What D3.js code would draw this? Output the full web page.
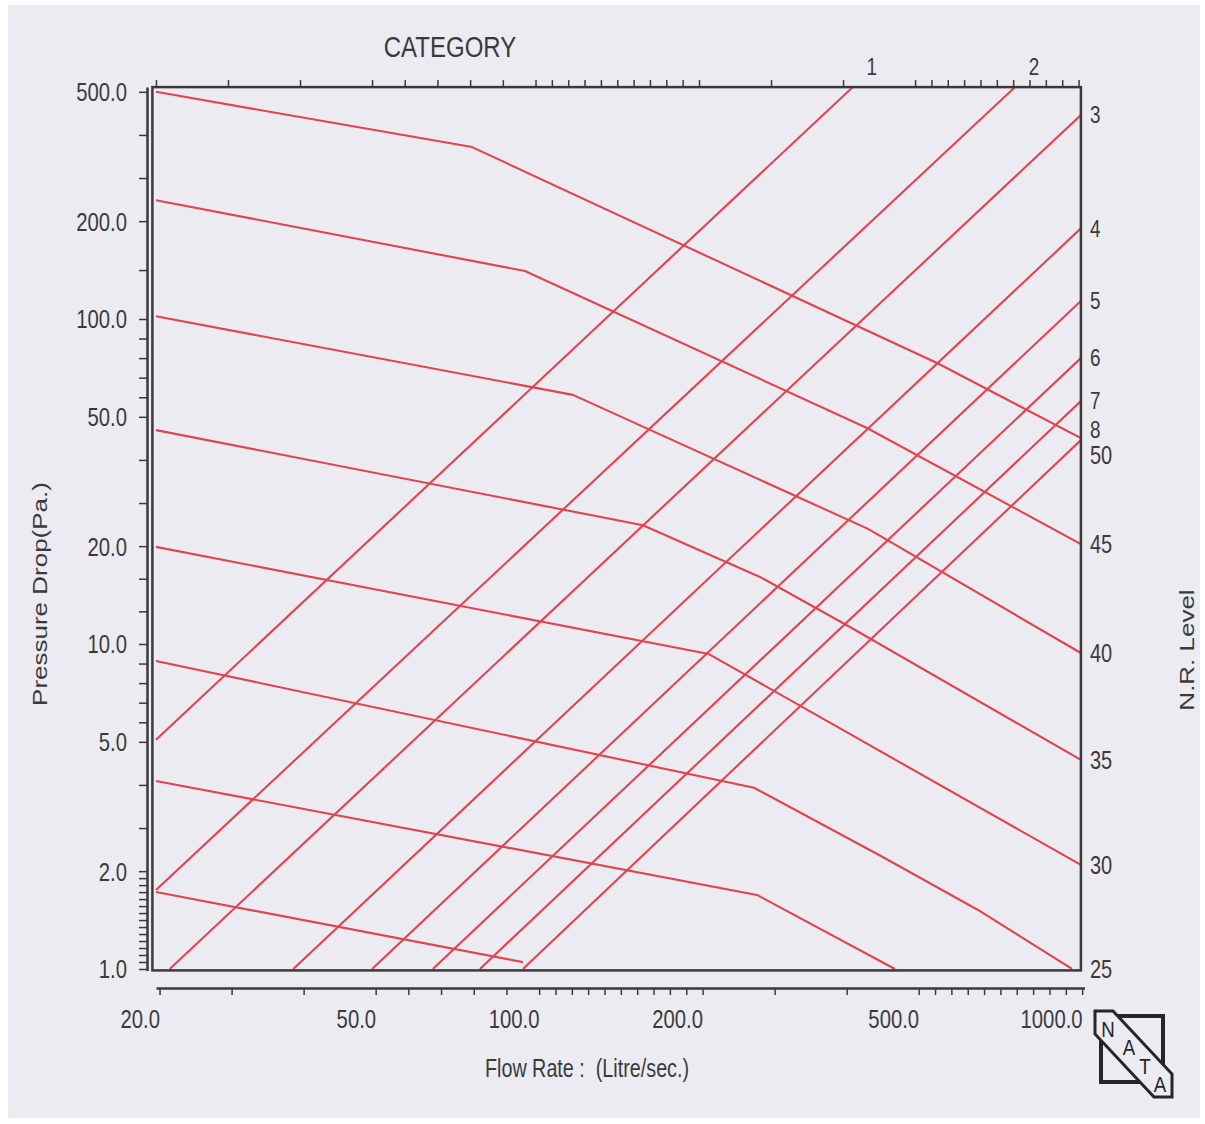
<!DOCTYPE html>
<html><head><meta charset="utf-8">
<script src="https://cdn.jsdelivr.net/npm/d3@7"></script>
<style>
html,body{margin:0;padding:0;background:#fff;}
svg{display:block;}
text{font-family:"Liberation Sans",Arial,Helvetica,sans-serif;fill:#3a3a3a;}
</style>
</head><body>
<svg id="c" width="1205" height="1124"></svg>
<script>
// ---------------- data ----------------
const xTickLabels = [20, 50, 100, 200, 500, 1000];
const yTickLabels = [1, 2, 5, 10, 20, 50, 100, 200, 500];
const xMinorSteps = [3, 5, 10, 3, 10];          // tick subdivisions between labelled x ticks
const yMinorSteps = [14, 3, 5, 3, 3, 5, 2, 3];  // tick subdivisions between labelled y ticks

const categoryNames = ["1", "2", "3", "4", "5", "6", "7", "8"];
const categoryStart = [[20, 5.07], [20, 1.75], [21.2, 1.0], [35.8, 1.0], [50.0, 1.0], [64.7, 1.0], [79.0, 1.0], [94.8, 1.0]];
const categoryEnd   = [[384, 517], [764, 517], [1010, 424], [1010, 190], [1010, 113.6], [1010, 75.8], [1010, 55.9], [1010, 42.4]];

const nrLevels = ["50", "45", "40", "35", "30", "25", "20", "15"];
const nr50 = [[20, 500], [76.4, 338], [548.8, 73.2], [1010, 43.0]];
const nr45 = [[20, 232], [95.6, 140.5], [407.8, 46.2], [1010, 20.3]];
const nr40 = [[20, 102], [117.2, 58.4], [409.6, 22.6], [1010, 9.38]];
const nr35 = [[20, 45.5], [157.7, 23.2], [259, 16.08], [379.4, 11.28], [1010, 4.40]];
const nr30 = [[20, 19.9], [208.6, 9.31], [1010, 2.09]];
const nr25 = [[20, 8.87], [252.6, 3.61], [432.6, 2.227], [653, 1.519], [972.6, 1.0]];
const nr20 = [[20, 3.79], [255.8, 1.69], [459, 1.0]];
const nr15 = [[20, 1.726], [94.8, 1.05]];
const nrLines = [nr50, nr45, nr40, nr35, nr30, nr25, nr20, nr15];

// ---------------- layout ----------------
const W = 1205, H = 1124;
const BG = "#ecebf1", INK = "#3a3a3a", RED = "#e2434f";
const labelNudge = {"8": -10, "50": 17};

const svg = d3.select("#c");
svg.append("rect").attr("width", W).attr("height", H).attr("fill", "#fff");
svg.append("rect").attr("x", 8).attr("y", 5).attr("width", 1192).attr("height", 1113).attr("fill", BG);

const x = d3.scaleLog().domain([19.7, 1010]).range([152.4, 1080.9]);
const y = d3.scaleLog().domain([0.99, 517]).range([970.4, 87.1]);
const [fx0, fx1] = x.range();
const [fyB, fyT] = y.range();

function subTicks(labels, steps) {
  const out = [];
  for (let i = 0; i < labels.length - 1; i++) {
    const a = labels[i], b = labels[i + 1], n = steps[i];
    for (let k = 0; k < n; k++) out.push(a * Math.pow(b / a, k / n));
  }
  out.push(labels[labels.length - 1]);
  return out;
}
const xTicks = subTicks(xTickLabels, xMinorSteps);
const yTicks = subTicks(yTickLabels, yMinorSteps);

function label(sel, txt, px, py, o) {
  const tr = `translate(${px},${py})` + (o.rot ? ` rotate(${o.rot}) scale(1,${o.sx})` : ` scale(${o.sx},1)`);
  const t = sel.append("text").text(txt)
    .attr("font-size", o.size)
    .attr("text-anchor", o.anchor || "start")
    .attr("transform", tr)
    .style("white-space", "pre");
  if (o.dy) t.attr("dy", o.dy);
  return t;
}

// ---------------- lines ----------------
svg.append("defs").append("clipPath").attr("id", "frame")
  .append("rect").attr("x", fx0).attr("y", fyT).attr("width", fx1 - fx0).attr("height", fyB - fyT);

const line = d3.line().x(d => x(d[0])).y(d => y(d[1]));
const plot = svg.append("g").attr("clip-path", "url(#frame)");

plot.selectAll("path.cat").data(categoryNames).join("path")
  .attr("class", "cat")
  .attr("d", (d, i) => line([categoryStart[i], categoryEnd[i]]))
  .attr("fill", "none").attr("stroke", RED).attr("stroke-width", 2.1);

plot.selectAll("path.nr").data(nrLines).join("path")
  .attr("class", "nr")
  .attr("d", d => line(d))
  .attr("fill", "none").attr("stroke", RED).attr("stroke-width", 2.1)
  .attr("stroke-linejoin", "round");

// ---------------- frame ----------------
svg.append("rect").attr("x", fx0).attr("y", fyT).attr("width", fx1 - fx0).attr("height", fyB - fyT)
  .attr("fill", "none").attr("stroke", INK).attr("stroke-width", 2.5);

// ---------------- axes ----------------
const yAxisX = 147, xAxisY = 988;
const leftAxis = svg.append("g").attr("transform", `translate(${yAxisX},0)`)
  .call(d3.axisLeft(y).tickValues(yTicks).tickSize(8).tickSizeOuter(0).tickFormat(""));
const bottomAxis = svg.append("g").attr("transform", `translate(0,${xAxisY})`)
  .call(d3.axisBottom(x.copy().range([fx0 + 3.6, fx1 + 3.6])).tickValues(xTicks).tickSize(7).tickSizeOuter(0).tickFormat(""));
const topAxis = svg.append("g").attr("transform", `translate(0,${fyT})`)
  .call(d3.axisTop(x).tickValues(xTicks.filter(v => v <= 1010)).tickSize(7).tickSizeOuter(0).tickFormat(""));
topAxis.select(".domain").remove();
[leftAxis, bottomAxis, topAxis].forEach(a => {
  a.selectAll(".tick line").attr("stroke", INK).attr("stroke-width", 1.5);
  a.select(".domain").attr("stroke", INK).attr("stroke-width", 2.5);
});

// tick labels
yTickLabels.forEach(v => label(svg, v.toFixed(1), 127, y(v), {size: 26, anchor: "end", sx: 0.78, dy: "0.36em"}));
xTickLabels.forEach(v => label(svg, v.toFixed(1), x(v) + 4, 1028, {size: 26, anchor: "end", sx: 0.78}));

// category labels
categoryNames.forEach((c, i) => {
  const e = categoryEnd[i];
  if (e[1] >= 517) {
    label(svg, c, x(e[0]) + 19, fyT - 20, {size: 23, anchor: "middle", sx: 0.82, dy: "0.36em"});
  } else {
    label(svg, c, fx1 + 9, y(e[1]) + (labelNudge[c] || 0), {size: 23, sx: 0.82, dy: "0.36em"});
  }
});

// N.R. labels (only lines reaching the right side)
nrLevels.forEach((n, i) => {
  const e = nrLines[i][nrLines[i].length - 1];
  if (e[0] < 900) return;
  label(svg, n, fx1 + 9, y(e[1]) + (labelNudge[n] || 0), {size: 25, sx: 0.8, dy: "0.36em"});
});

// titles
label(svg, "CATEGORY", 450, 57, {size: 30, anchor: "middle", sx: 0.8});
label(svg, "Flow Rate :  (Litre/sec.)", 587, 1077, {size: 26, anchor: "middle", sx: 0.76});
label(svg, "Pressure Drop(Pa.)", 47, 594, {size: 26, anchor: "middle", sx: 0.78, rot: -90});
label(svg, "N.R. Level", 1194, 650, {size: 26, anchor: "middle", sx: 0.78, rot: -90});

// ---------------- NATA logo ----------------
const logo = svg.append("g");
logo.append("rect").attr("x", 1101).attr("y", 1016).attr("width", 62).attr("height", 66)
  .attr("fill", "none").attr("stroke", "#262626").attr("stroke-width", 4);
logo.append("polygon")
  .attr("points", [[1095,1011],[1113,1011],[1172,1074],[1172,1097],[1154,1097],[1095,1034]].map(p => p.join(",")).join(" "))
  .attr("fill", BG).attr("stroke", "#262626").attr("stroke-width", 3);
[["N",1108,1029],["A",1129,1047],["T",1145,1066],["A",1160,1084]].forEach(l =>
  label(logo, l[0], l[1], l[2], {size: 22, anchor: "middle", sx: 0.85, dy: "0.36em"}).style("fill", "#262626"));
</script>
</body></html>
